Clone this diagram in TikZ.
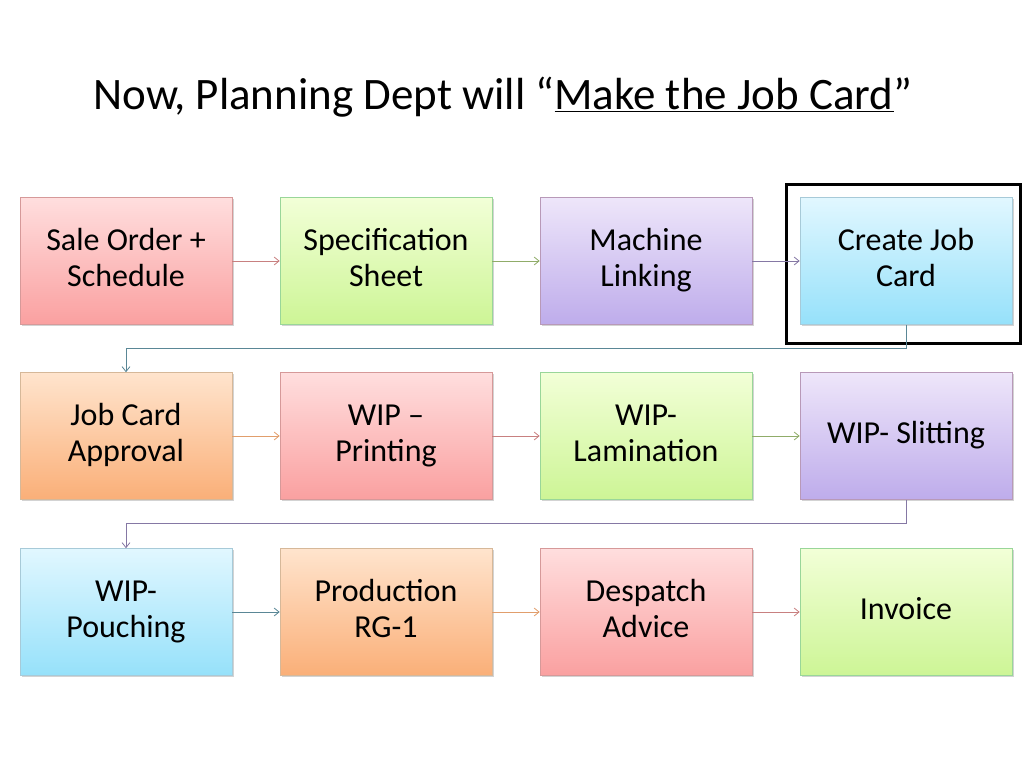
\documentclass[tikz,border=0pt]{standalone}
\usepackage{fontspec}
\setmainfont{Carlito}
\usetikzlibrary{arrows.meta,shadows,positioning}
\tikzset{
    stepbox/.style={minimum width=212pt, minimum height=127pt, align=center, font=\fontsize{32}{36}\selectfont, draw=#1!60!black!40, line width=0.6pt, drop shadow={shadow xshift=1.5pt, shadow yshift=-1.5pt, opacity=0.35}},
    flow/.style={-{Straight Barb[length=5pt,width=8pt]}, line width=0.8pt}
}
\definecolor{rtop}{RGB}{255,222,222}\definecolor{rbot}{RGB}{250,160,160}
\definecolor{gtop}{RGB}{242,255,215}\definecolor{gbot}{RGB}{205,245,150}
\definecolor{ptop}{RGB}{238,230,250}\definecolor{pbot}{RGB}{190,172,235}
\definecolor{btop}{RGB}{225,247,255}\definecolor{bbot}{RGB}{150,225,250}
\definecolor{otop}{RGB}{255,228,205}\definecolor{obot}{RGB}{250,175,120}
\tikzset{
    redbox/.style={stepbox=red, top color=rtop, bottom color=rbot},
    greenbox/.style={stepbox=green, top color=gtop, bottom color=gbot},
    purplebox/.style={stepbox=violet, top color=ptop, bottom color=pbot},
    bluebox/.style={stepbox=cyan, top color=btop, bottom color=bbot},
    orangebox/.style={stepbox=orange, top color=otop, bottom color=obot}
}
\begin{document}
\begin{tikzpicture}[x=1pt,y=-1pt]
    \useasboundingbox (0,0) rectangle (1024,768);

    \node[anchor=west, font=\fontsize{45}{52}\selectfont] (Title) at (90,97) {Now, Planning Dept will ``\underline{Make the Job Card}''};

    \node[redbox] (Sale) at (126,261) {\strut Sale Order +\\\strut Schedule};
    \node[greenbox] (Spec) at (386,261) {\strut Specification\\\strut Sheet};
    \node[purplebox] (Mach) at (646,261) {\strut Machine\\\strut Linking};
    \node[bluebox] (Create) at (906,261) {\strut Create Job\\\strut Card};

    \node[orangebox] (Appr) at (126,436) {\strut Job Card\\\strut Approval};
    \node[redbox] (Print) at (386,436) {\strut WIP --\\\strut Printing};
    \node[greenbox] (Lami) at (646,436) {\strut WIP-\\\strut Lamination};
    \node[purplebox] (Slit) at (906,436) {\strut WIP- Slitting};

    \node[bluebox] (Pouch) at (126,612) {\strut WIP-\\\strut Pouching};
    \node[orangebox] (Prod) at (386,612) {\strut Production\\\strut RG-1};
    \node[redbox] (Desp) at (646,612) {\strut Despatch\\\strut Advice};
    \node[greenbox] (Inv) at (906,612) {\strut Invoice};

    \draw[line width=3pt] (786,184) rectangle (1020,343);

    \draw[flow, rbot!80!black] (Sale) -- (Spec);
    \draw[flow, gbot!70!black] (Spec) -- (Mach);
    \draw[flow, pbot!70!black] (Mach) -- (Create);
    \draw[flow, bbot!60!black] (Create.south) -- ++(0,24) -| (Appr.north);

    \draw[flow, obot!90!black] (Appr) -- (Print);
    \draw[flow, rbot!80!black] (Print) -- (Lami);
    \draw[flow, gbot!70!black] (Lami) -- (Slit);
    \draw[flow, pbot!70!black] (Slit.south) -- ++(0,24) -| (Pouch.north);

    \draw[flow, bbot!60!black] (Pouch) -- (Prod);
    \draw[flow, obot!90!black] (Prod) -- (Desp);
    \draw[flow, rbot!80!black] (Desp) -- (Inv);
\end{tikzpicture}
\end{document}
